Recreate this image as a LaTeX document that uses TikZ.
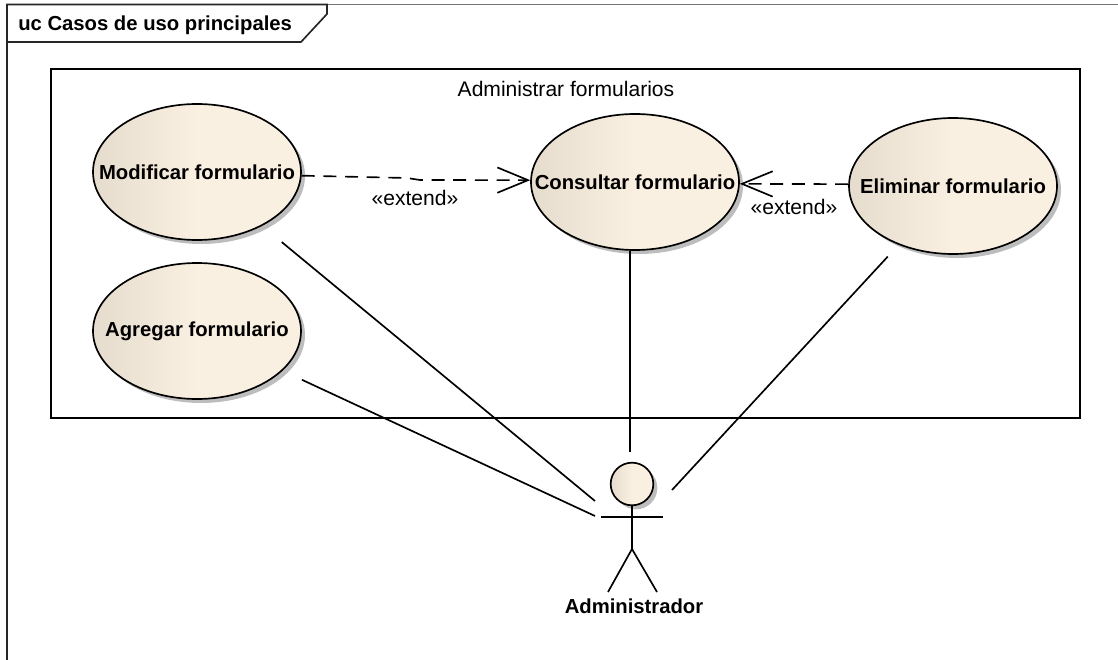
\documentclass[tikz,border=0pt]{standalone}
\usepackage{fontspec}
\setmainfont{Liberation Sans}
\usetikzlibrary{arrows.meta}
\usetikzlibrary{positioning}
\usetikzlibrary{shadows}
\usetikzlibrary{shapes.geometric}
\definecolor{ucdark}{HTML}{E6DCCD}
\definecolor{uclight}{HTML}{FAF0E2}
\definecolor{ucshadow}{HTML}{BDBDBD}
\tikzset{usecase/.style = {draw, ellipse, line width = 1.25pt, inner sep = 0,
                           minimum width = 156pt, minimum height = 102pt,
                           left color = ucdark, right color = uclight, middle color = uclight,
                           drop shadow = {shadow xshift = 3pt, shadow yshift = -3pt,
                                          opacity = 1, fill = ucshadow},
                           font = \fontsize{15.2pt}{17pt}\selectfont\bfseries}}
\tikzset{lbl/.style = {inner sep = 0, font = \fontsize{15.8pt}{18pt}\selectfont}}
\tikzset{boldlbl/.style = {inner sep = 0, font = \fontsize{15.2pt}{17pt}\selectfont\bfseries}}
\tikzset{assoc/.style = {line width = 1.25pt}}
\tikzset{extend/.style = {line width = 1.25pt, dash pattern = on 9.75pt off 6.5pt,
                          -{Straight Barb[length = 23pt, width = 19pt, line width = 1.25pt]}}}
\begin{document}
\begin{tikzpicture}[x = 0.75pt, y = -0.75pt]
      \useasboundingbox (0, 0) rectangle (1118, 660);
      \draw [line width = 1.25pt, black!55] (1118, 4.5) -- (327, 4.5);
      \draw [line width = 1.25pt, black!85] (7, 660) -- (7, 4.5) -- (327, 4.5) -- (327, 14) -- (301, 42) -- (7, 42);
      \node [boldlbl, anchor = west] (title) at (18, 25) {uc Casos de uso principales};
      \draw [line width = 1.25pt] (51, 69) rectangle (1080, 418);
      \node [lbl] (boundary) at (566, 89) {Administrar formularios};
      \node [usecase] (modificar) at (197, 172) {\makebox[0pt]{Modificar formulario}};
      \node [usecase] (consultar) at (635, 182) {\makebox[0pt]{Consultar formulario}};
      \node [usecase] (eliminar) at (953, 186) {\makebox[0pt]{Eliminar formulario}};
      \node [usecase] (agregar) at (197, 331) {\makebox[0pt]{Agregar formulario}};
      \node [draw, circle, line width = 1.25pt, inner sep = 0, minimum size = 32pt,
             left color = ucdark, right color = uclight, middle color = uclight,
             drop shadow = {shadow xshift = 3pt, shadow yshift = -3pt, opacity = 1, fill = ucshadow}] (actorHead) at (632, 484) {};
      \coordinate (armLeft) at (601, 517);
      \coordinate (armRight) at (663, 517);
      \coordinate (hip) at (632, 549);
      \coordinate (footLeft) at (608, 592);
      \coordinate (footRight) at (657, 592);
      \draw [assoc] (armLeft) -- (armRight);
      \draw [assoc] (actorHead) -- (hip);
      \draw [assoc] (footLeft) -- (hip) -- (footRight);
      \node [boldlbl] (actorName) at (634, 606) {Administrador};
      \coordinate (endModificar) at (595, 501);
      \coordinate (endAgregar) at (595, 516);
      \coordinate (endConsultar) at (630, 452);
      \coordinate (endEliminar) at (672, 490);
      \coordinate (bendA) at (407, 178);
      \coordinate (bendB) at (420, 180);
      \draw [assoc, shorten < = 19pt] (modificar) -- (endModificar);
      \draw [assoc, shorten < = 16pt] (agregar) -- (endAgregar);
      \draw [assoc] (consultar.south -| endConsultar) -- (endConsultar);
      \draw [assoc, shorten < = 12pt] (eliminar) -- (endEliminar);
      \draw [extend] (modificar.-2) -- (bendA) -- (bendB) -- (consultar.179);
      \draw [extend] (eliminar.179) -- (consultar.-1);
      \node [lbl] (extendLeft) at (415, 198) {«extend»};
      \node [lbl] (extendRight) at (794, 207) {«extend»};
    \end{tikzpicture}
\end{document}
